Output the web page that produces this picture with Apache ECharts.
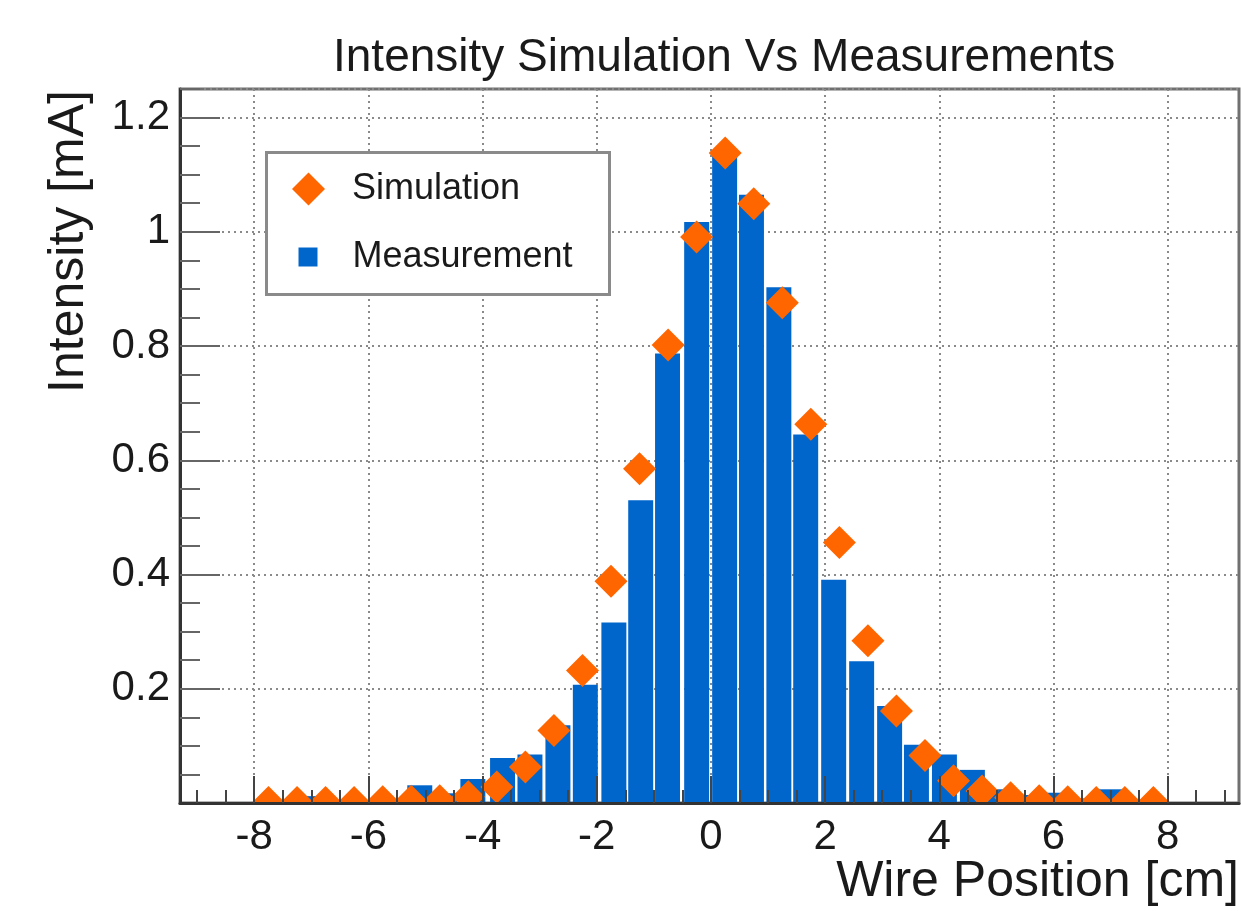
<!DOCTYPE html>
<html>
<head>
<meta charset="utf-8">
<script src="https://cdn.jsdelivr.net/npm/echarts@6/dist/echarts.min.js"></script>
<style>
  html, body { margin: 0; padding: 0; background: #fff; }
  #chart { width: 1241px; height: 911px; }
</style>
</head>
<body>
<div id="chart"></div>
<script>
// simulation points (diamonds), wire positions in cm
const simX = [-7.75, -7.25, -6.75, -6.25, -5.75, -5.25, -4.75, -4.25, -3.75, -3.25, -2.75, -2.25, -1.75, -1.25, -0.75, -0.25,
              0.25, 0.75, 1.25, 1.75, 2.25, 2.75, 3.25, 3.75, 4.25, 4.75, 5.25, 5.75, 6.25, 6.75, 7.25, 7.75];
const simY = [0.001, 0.001, 0.001, 0.001, 0.002, 0.003, 0.004, 0.011, 0.028, 0.063, 0.127, 0.232, 0.388, 0.585, 0.802, 0.991,
              1.138, 1.049, 0.876, 0.663, 0.456, 0.284, 0.161, 0.083, 0.039, 0.021, 0.009, 0.004, 0.002, 0.001, 0.001, 0.001];

// measurement bins (bar centres in cm)
const measX = [-7.06, -6.57, -6.09, -5.60, -5.10, -4.63, -4.17, -3.65, -3.17, -2.68, -2.20, -1.70, -1.23, -0.76, -0.25,
               0.24, 0.71, 1.19, 1.66, 2.15, 2.64, 3.13, 3.60, 4.09, 4.58, 5.05, 5.54, 6.02, 6.51, 6.98, 7.45];
const measY = [0.012, 0.005, 0.004, 0.006, 0.031, 0.017, 0.042, 0.079, 0.085, 0.136, 0.207, 0.316, 0.530, 0.787, 1.017,
               1.135, 1.065, 0.903, 0.645, 0.391, 0.248, 0.170, 0.102, 0.085, 0.058, 0.024, 0.014, 0.018, 0.008, 0.024, 0.006];

const binWidth = 0.483;

// axis ranges
const xMin = -9.3, xMax = 9.25;
const yMin = 0, yMax = 1.25;

const gridLeft = 180, gridRight = 2, gridTop = 89, gridBottom = 108;
const ppu = (1241 - gridLeft - gridRight) / (xMax - xMin);

// a grid that lines up with the main one but spans [a, b]
function subGrid(a, b) {
    return {
        left: gridLeft + (a - xMin) * ppu,
        right: gridRight + (xMax - b) * ppu,
        top: gridTop,
        bottom: gridBottom,
        outerBoundsMode: 'none'
    };
}

const font = 'Liberation Sans';
const dotted = { color: '#8a8a8a', width: 2, type: [2, 4] };
const noLine = { show: false, onZero: false };

const chart = echarts.init(document.getElementById('chart'));

const option = {
    animation: false,
    title: {
        text: 'Intensity Simulation Vs Measurements',
        left: 333,
        top: 35,
        padding: 0,
        textStyle: { fontFamily: font, fontSize: 46, fontWeight: 'normal', color: '#1a1a1a' }
    },
    graphic: [{
        type: 'rect',
        left: 265,
        top: 151,
        z: 3,
        shape: { width: 343, height: 142 },
        style: { fill: '#fff', stroke: '#8a8a8a', lineWidth: 3 }
    }],
    legend: [{
        left: 292,
        top: 171,
        padding: 0,
        itemWidth: 33,
        itemHeight: 33,
        selectedMode: false,
        z: 5,
        data: [{ name: 'Simulation', icon: 'diamond' }],
        textStyle: { fontFamily: font, fontSize: 36, color: '#1a1a1a', padding: [0, 0, 0, 22] }
    }, {
        left: 298.5,
        top: 239,
        padding: 0,
        itemWidth: 19,
        itemHeight: 19,
        selectedMode: false,
        z: 5,
        data: [{ name: 'Measurement', icon: 'rect' }],
        textStyle: { fontFamily: font, fontSize: 36, color: '#1a1a1a', padding: [0, 0, 0, 30] }
    }],
    grid: [
        { left: gridLeft, right: gridRight, top: gridTop, bottom: gridBottom, outerBoundsMode: 'none',
          show: true, borderColor: '#707070', borderWidth: 3, backgroundColor: '#fff' },
        subGrid(-8, 8),
        subGrid(-9, 9)
    ],
    xAxis: [{
        // main axis: line + name
        gridIndex: 0, type: 'value', position: 'bottom', min: xMin, max: xMax, z: 5,
        axisLine: { show: true, onZero: false, lineStyle: { color: '#333', width: 3 } },
        axisTick: { show: false }, axisLabel: { show: false }, splitLine: { show: false },
        name: 'Wire Position [cm]',
        nameLocation: 'end',
        nameGap: 0,
        nameTextStyle: { fontFamily: font, fontSize: 50, color: '#1a1a1a', align: 'right', verticalAlign: 'top', padding: [54, 0, 0, 0] }
    }, {
        // major ticks and labels
        gridIndex: 1, type: 'value', position: 'bottom', min: -8, max: 8, interval: 2, z: 5,
        axisLine: noLine,
        axisTick: { show: true, inside: true, length: 27, lineStyle: { color: '#444', width: 2 } },
        axisLabel: { show: true, margin: 13, fontFamily: font, fontSize: 42, color: '#1a1a1a' },
        splitLine: { show: false }
    }, {
        // vertical grid lines
        gridIndex: 1, type: 'value', position: 'top', min: -8, max: 8, interval: 2, z: 0,
        axisLine: noLine, axisTick: { show: false }, axisLabel: { show: false },
        splitLine: { show: true, lineStyle: dotted }
    }, {
        // minor ticks every 0.5 cm
        gridIndex: 2, type: 'value', position: 'bottom', min: -9, max: 9, interval: 0.5, z: 5,
        axisLine: noLine,
        axisTick: { show: true, inside: true, length: 13, lineStyle: { color: '#444', width: 2 } },
        axisLabel: { show: false }, splitLine: { show: false }
    }],
    yAxis: [{
        gridIndex: 0, type: 'value', position: 'left', min: yMin, max: yMax, interval: 0.2, z: 1,
        axisLine: { show: true, onZero: false, lineStyle: { color: '#333', width: 3 } },
        axisTick: { show: true, inside: true, length: 40, lineStyle: { color: '#666', width: 2 } },
        axisLabel: { show: true, margin: 10, showMinLabel: false, showMaxLabel: false,
                     fontFamily: font, fontSize: 42, color: '#1a1a1a' },
        splitLine: { show: true, lineStyle: dotted }
    }, {
        // minor ticks every 0.05
        gridIndex: 0, type: 'value', position: 'left', min: yMin, max: yMax, interval: 0.05, z: 1,
        axisLine: noLine,
        axisTick: { show: true, inside: true, length: 20, lineStyle: { color: '#666', width: 2 } },
        axisLabel: { show: false }, splitLine: { show: false }
    }, {
        // axis title only
        gridIndex: 0, type: 'value', position: 'left', min: yMin, max: yMax, offset: 111,
        axisLine: noLine, axisTick: { show: false }, axisLabel: { show: false }, splitLine: { show: false },
        name: 'Intensity [mA]',
        nameLocation: 'end',
        nameRotate: 90,
        nameGap: -1,
        nameTextStyle: { fontFamily: font, fontSize: 50, color: '#1a1a1a', align: 'right', verticalAlign: 'middle' }
    },
    { gridIndex: 1, show: false, min: 0, max: 1, axisLine: noLine },
    { gridIndex: 2, show: false, min: 0, max: 1, axisLine: noLine }],
    series: [{
        name: 'Measurement',
        type: 'custom',
        xAxisIndex: 0,
        yAxisIndex: 0,
        clip: true,
        z: 2,
        itemStyle: { color: '#0066cc' },
        data: measX.map((x, i) => [x, measY[i]]),
        renderItem: function (params, api) {
            const x = api.value(0);
            const y = api.value(1);
            const p0 = api.coord([x - binWidth / 2, y]);
            const p1 = api.coord([x + binWidth / 2, 0]);
            return {
                type: 'rect',
                shape: { x: p0[0] + 1.3, y: p0[1], width: p1[0] - p0[0] - 2.6, height: p1[1] - p0[1] },
                style: { fill: '#0066cc' }
            };
        }
    }, {
        name: 'Simulation',
        type: 'custom',
        xAxisIndex: 0,
        yAxisIndex: 0,
        clip: true,
        z: 3,
        itemStyle: { color: '#ff6600' },
        data: simX.map((x, i) => [x, simY[i]]),
        renderItem: function (params, api) {
            const c = api.coord([api.value(0), api.value(1)]);
            const r = 16.5;
            return {
                type: 'polygon',
                shape: { points: [[c[0], c[1] - r], [c[0] + r, c[1]], [c[0], c[1] + r], [c[0] - r, c[1]]] },
                style: { fill: '#ff6600' }
            };
        }
    }]
};

chart.setOption(option);
</script>
</body>
</html>
